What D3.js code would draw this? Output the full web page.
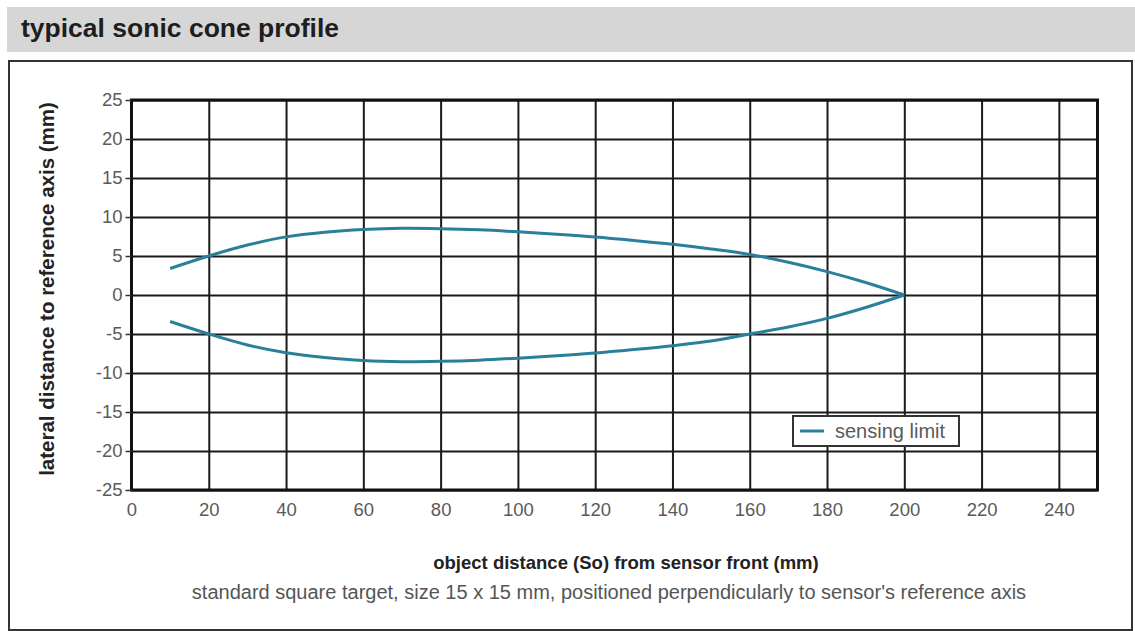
<!DOCTYPE html>
<html>
<head>
<meta charset="utf-8">
<script src="https://cdn.jsdelivr.net/npm/d3@7"></script>
<style>
  html, body { margin: 0; padding: 0; background: #fff; }
  svg { display: block; }
  text { font-family: "Liberation Sans", Arial, sans-serif; }
</style>
</head>
<body>
<svg id="chart" width="1135" height="631"></svg>
<script>
// ---- data ----
const title = "typical sonic cone profile";
const xLabel = "object distance (So) from sensor front (mm)";
const yLabel = "lateral distance to reference axis (mm)";
const note = "standard square target, size 15 x 15 mm, positioned perpendicularly to sensor's reference axis";
const seriesName = "sensing limit";

const xTicks = [0, 20, 40, 60, 80, 100, 120, 140, 160, 180, 200, 220, 240];
const yTicks = [-25, -20, -15, -10, -5, 0, 5, 10, 15, 20, 25];

const distance = [10, 20, 30, 40, 50, 60, 70, 80, 90, 100, 110, 120, 130, 140, 150, 160, 170, 180, 190, 200];
const upperLimit = [3.4, 5.0, 6.4, 7.45, 8.05, 8.4, 8.55, 8.5, 8.35, 8.1, 7.8, 7.45, 7.0, 6.5, 5.9, 5.2, 4.2, 3.0, 1.6, 0];
const lowerLimit = [-3.4, -5.0, -6.4, -7.4, -8.0, -8.4, -8.55, -8.5, -8.35, -8.1, -7.8, -7.45, -7.0, -6.5, -5.9, -5.0, -4.1, -3.0, -1.6, 0];

// ---- layout ----
const svg = d3.select("#chart");
const plot = { left: 131.5, right: 1097.5, top: 100, bottom: 490 };
const x = d3.scaleLinear().domain([0, 250]).range([plot.left, plot.right]);
const y = d3.scaleLinear().domain([-25, 25]).range([plot.bottom, plot.top]);
const lineColor = "#2a7f9b";
const fmt = d => String(d);

// title bar
svg.append("rect").attr("x", 7).attr("y", 7).attr("width", 1128).attr("height", 45).attr("fill", "#d6d6d6");
svg.append("text").attr("x", 21).attr("y", 37).attr("font-size", 26.5).attr("font-weight", "bold")
  .attr("fill", "#1e1e1e").text(title);

// chart frame
svg.append("rect").attr("x", 9).attr("y", 61).attr("width", 1123).attr("height", 569)
  .attr("fill", "none").attr("stroke", "#333").attr("stroke-width", 2);

// grid
const gridX = svg.append("g").attr("transform", `translate(0,${plot.bottom})`)
  .call(d3.axisBottom(x).tickValues(xTicks).tickSize(-(plot.bottom - plot.top)).tickFormat(""));
const gridY = svg.append("g").attr("transform", `translate(${plot.left},0)`)
  .call(d3.axisLeft(y).tickValues(yTicks).tickSize(-(plot.right - plot.left)).tickFormat(""));
[gridX, gridY].forEach(g => {
  g.select(".domain").remove();
  g.selectAll("line").attr("stroke", "#1a1a1a").attr("stroke-width", 2);
});

// plot border
svg.append("rect").attr("x", plot.left).attr("y", plot.top)
  .attr("width", plot.right - plot.left).attr("height", plot.bottom - plot.top)
  .attr("fill", "none").attr("stroke", "#111").attr("stroke-width", 3);

// axes with labels
const axX = svg.append("g").attr("transform", `translate(0,${plot.bottom})`)
  .call(d3.axisBottom(x).tickValues(xTicks).tickFormat(fmt).tickSize(0).tickPadding(13));
const axY = svg.append("g").attr("transform", `translate(${plot.left},0)`)
  .call(d3.axisLeft(y).tickValues(yTicks).tickFormat(fmt).tickSize(6).tickPadding(3));
[axX, axY].forEach(g => {
  g.select(".domain").remove();
  g.selectAll("text").attr("font-size", 18.5).attr("fill", "#5a5a5a")
    .attr("font-family", "'Liberation Sans', Arial, sans-serif");
  g.selectAll("line").attr("stroke", "#333").attr("stroke-width", 1.5);
});

// curves
const line = d3.line().x(d => x(d[0])).y(d => y(d[1])).curve(d3.curveCatmullRom.alpha(0.5));
[upperLimit, lowerLimit].forEach(vals => {
  svg.append("path").datum(distance.map((d, i) => [d, vals[i]]))
    .attr("d", line).attr("fill", "none").attr("stroke", lineColor)
    .attr("stroke-width", 3).attr("stroke-linejoin", "miter");
});

// legend
const lg = svg.append("g").attr("transform", "translate(793,416)");
lg.append("rect").attr("width", 166).attr("height", 30).attr("fill", "#fff")
  .attr("stroke", "#333").attr("stroke-width", 2);
lg.append("line").attr("x1", 7).attr("x2", 31).attr("y1", 15).attr("y2", 15)
  .attr("stroke", lineColor).attr("stroke-width", 3);
lg.append("text").attr("x", 42).attr("y", 21.5).attr("font-size", 20).attr("fill", "#5a5a5a").text(seriesName);

// axis titles
svg.append("text").attr("transform", "translate(54,289) rotate(-90)").attr("text-anchor", "middle")
  .attr("font-size", 20.5).attr("font-weight", "bold").attr("fill", "#222").text(yLabel);
svg.append("text").attr("x", 626).attr("y", 569).attr("text-anchor", "middle")
  .attr("font-size", 18.5).attr("font-weight", "bold").attr("fill", "#222").text(xLabel);
svg.append("text").attr("x", 609).attr("y", 599).attr("text-anchor", "middle")
  .attr("font-size", 20).attr("fill", "#555").text(note);
</script>
</body>
</html>
